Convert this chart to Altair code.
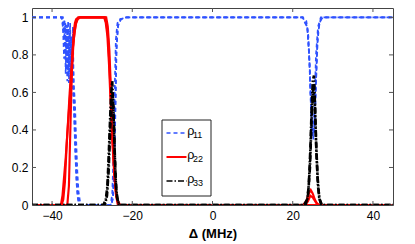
import altair as alt
import pandas as pd

# ---- data ----
b1_x = [-45, -37.6, -37.2, -36.9, -36.6, -36.3, -36.0, -35.7, -35.4, -35.1, -34.8, -34.5, -34.2, -33.9, -33.6, -33.2,
        -25.2, -24.8, -24.5, -24.2, -23.9, -23.5, -22.8, -21.5,
        22.5, 23.4, 23.9, 24.3, 24.7, 25.1, 25.5, 25.9, 26.3, 26.8, 27.5, 45]
b1_y = [1, 1, 0.93, 0.99, 0.8, 0.96, 0.7, 0.93, 0.66, 0.9, 0.62, 0.48, 0.28, 0.12, 0.04, 0,
        0, 0.04, 0.18, 0.5, 0.85, 0.96, 0.99, 1,
        1, 0.98, 0.9, 0.7, 0.45, 0.35, 0.42, 0.7, 0.92, 0.98, 1, 1]
b2_x = [-45, -37.3, -37.0, -36.7, -36.4, -36.1, -35.8, -35.5, -35.2, -34.9, -34.6, -34.3, -34.0, -33.7, -33.4, -32.9,
        -25.4, -25.0, -24.7, -24.4, -24.1, -23.7, -23.0, -21.5,
        22.5, 23.6, 24.1, 24.5, 24.9, 25.3, 25.7, 26.1, 26.6, 27.2, 45]
b2_y = [1, 1, 0.88, 0.97, 0.72, 0.94, 0.65, 0.97, 0.7, 0.85, 0.64, 0.55, 0.35, 0.18, 0.07, 0,
        0, 0.06, 0.25, 0.6, 0.88, 0.97, 0.99, 1,
        1, 0.95, 0.8, 0.55, 0.38, 0.4, 0.6, 0.85, 0.96, 1, 1]
b3_x = [-45, -37.4, -37.2, -37.0, -36.8, -36.6, -36.4, -36.2, -36.0, -35.8, -35.6, -35.4, -35.2, -35.0, -34.8,
        -34.6, -34.4, -34.1, -33.8, -33.5, -33.1,
        -25.3, -24.9, -24.6, -24.3, -24.0, -23.6, -23.0, -21.5,
        22.5, 23.7, 24.2, 24.6, 25.0, 25.4, 25.8, 26.3, 27.0, 45]
b3_y = [1, 1, 0.9, 0.78, 0.95, 0.7, 0.9, 0.66, 0.98, 0.75, 0.92, 0.63, 0.88, 0.7, 0.95,
        0.6, 0.45, 0.25, 0.1, 0.03, 0,
        0, 0.03, 0.15, 0.45, 0.8, 0.95, 0.99, 1,
        1, 0.94, 0.75, 0.5, 0.37, 0.5, 0.8, 0.95, 1, 1]

r1_x = [-45, -37.6, -37.2, -36.8, -36.4, -36.0, -35.6, -35.2, -34.8, -34.4, -34.0, -33.6, -33.0,
        -27.0, -26.6, -26.2, -25.8, -25.4, -25.0, -24.6, -24.2, -23.8, -23.3,
        22.6, 23.4, 24.0, 24.5, 25.0, 25.5, 26.0, 26.6, 45]
r1_y = [0, 0, 0.03, 0.12, 0.3, 0.45, 0.6, 0.72, 0.84, 0.92, 0.97, 0.99, 1,
        1, 0.97, 0.9, 0.75, 0.55, 0.35, 0.2, 0.09, 0.03, 0,
        0, 0.02, 0.06, 0.08, 0.06, 0.03, 0.01, 0, 0]
r2_x = [-45, -36.2, -35.8, -35.5, -35.2, -34.9, -34.6, -34.3, -34.0, -33.5,
        -26.5, -26.1, -25.7, -25.3, -24.9, -24.5, -24.1, -23.6,
        23.0, 23.8, 24.4, 25.0, 25.6, 26.2, 45]
r2_y = [0, 0, 0.1, 0.35, 0.6, 0.8, 0.92, 0.97, 0.99, 1,
        1, 0.95, 0.82, 0.6, 0.38, 0.18, 0.06, 0,
        0, 0.02, 0.05, 0.04, 0.02, 0, 0]
r3_x = [-45, -37.8, -37.4, -37.0, -36.6, -36.2, -35.8, -35.4, -35.0, -34.6, -34.2, -33.8, -33.2,
        -26.8, -26.4, -26.0, -25.6, -25.2, -24.8, -24.4, -24.0, -23.6, -23.0, 45]
r3_y = [0, 0, 0.05, 0.15, 0.25, 0.38, 0.5, 0.62, 0.75, 0.88, 0.95, 0.99, 1,
        1, 0.96, 0.88, 0.7, 0.5, 0.3, 0.15, 0.06, 0.02, 0, 0]

k1_x = [-45, -27.2, -26.6, -26.2, -25.9, -25.6, -25.3, -25.0, -24.7, -24.4, -24.1, -23.8, -23.3,
        22.8, 23.6, 24.0, 24.4, 24.7, 25.0, 25.3, 25.6, 25.9, 26.3, 26.7, 27.3, 45]
k1_y = [0, 0, 0.03, 0.1, 0.25, 0.42, 0.58, 0.66, 0.5, 0.3, 0.12, 0.04, 0,
        0, 0.03, 0.1, 0.3, 0.5, 0.66, 0.69, 0.5, 0.28, 0.1, 0.03, 0, 0]
k2_x = [-45, -26.8, -26.3, -25.9, -25.5, -25.2, -24.9, -24.6, -24.3, -24.0, -23.6, -23.0,
        23.2, 23.8, 24.3, 24.7, 25.1, 25.5, 25.8, 26.2, 26.6, 27.1, 45]
k2_y = [0, 0, 0.05, 0.18, 0.4, 0.55, 0.6, 0.45, 0.22, 0.08, 0.02, 0,
        0, 0.05, 0.2, 0.45, 0.62, 0.55, 0.35, 0.15, 0.04, 0, 0]

series_names = ["ρ11", "ρ22", "ρ33"]
series_subs = ["11", "22", "33"]
series_colors = ["#2f52ff", "#ff0000", "#000000"]
series_dash = [[4, 3], [1, 0], [6, 2, 1.5, 2]]
series_width = [1.7, 2.6, 1.9]

x_ticks = [-40, -20, 0, 20, 40]
y_ticks = [0, 0.2, 0.4, 0.6, 0.8, 1]

traces = [
    (series_names[0], "b1", b1_x, b1_y),
    (series_names[0], "b2", b2_x, b2_y),
    (series_names[0], "b3", b3_x, b3_y),
    (series_names[1], "r1", r1_x, r1_y),
    (series_names[1], "r2", r2_x, r2_y),
    (series_names[1], "r3", r3_x, r3_y),
    (series_names[2], "k1", k1_x, k1_y),
    (series_names[2], "k2", k2_x, k2_y),
]
rows = []
for name, tid, xs, ys in traces:
    assert len(xs) == len(ys), tid
    for xv, yv in zip(xs, ys):
        rows.append({"x": xv, "y": yv, "s": name, "t": tid})
df = pd.DataFrame(rows)

W, H = 361, 197
xscale = alt.Scale(domain=[-45, 45], nice=False, zero=False)
yscale = alt.Scale(domain=[0, 1.05], nice=False, zero=False)
cscale = alt.Scale(domain=series_names, range=series_colors)
dscale = alt.Scale(domain=series_names, range=series_dash)
wscale = alt.Scale(domain=series_names, range=series_width)

x_axis = alt.Axis(values=x_ticks, title="Δ (MHz)", ticks=False, domain=False, grid=False,
                  labelOverlap=False, labelPadding=5, titlePadding=6,
                  titleFontWeight="bold", titleFontSize=13)
y_axis = alt.Axis(values=y_ticks, title=None, ticks=False, domain=False, grid=False,
                  labelOverlap=False, format="~g", labelPadding=4)

lines = alt.Chart(df).mark_line(clip=True).encode(
    x=alt.X("x:Q", scale=xscale, axis=x_axis),
    y=alt.Y("y:Q", scale=yscale, axis=y_axis),
    color=alt.Color("s:N", scale=cscale, legend=None),
    strokeDash=alt.StrokeDash("s:N", scale=dscale, legend=None),
    strokeWidth=alt.StrokeWidth("s:N", scale=wscale, legend=None),
    detail="t:N",
)

xt = pd.DataFrame({"x": x_ticks})
yt = pd.DataFrame({"y": y_ticks})
tick_color = "#555555"
bot = alt.Chart(xt).mark_rule(color=tick_color).encode(
    x=alt.X("x:Q", scale=xscale, axis=x_axis), y=alt.value(H), y2=alt.value(H - 4))
top = alt.Chart(xt).mark_rule(color=tick_color).encode(
    x=alt.X("x:Q", scale=xscale, axis=x_axis), y=alt.value(0), y2=alt.value(4))
lft = alt.Chart(yt).mark_rule(color=tick_color).encode(
    y=alt.Y("y:Q", scale=yscale, axis=y_axis), x=alt.value(0), x2=alt.value(4))
rgt = alt.Chart(yt).mark_rule(color=tick_color).encode(
    y=alt.Y("y:Q", scale=yscale, axis=y_axis), x=alt.value(W), x2=alt.value(W - 4))

# ---- hand-made legend (box, line samples, ρ with subscripts) ----
one = pd.DataFrame({"a": [0]})
legend_layers = [
    alt.Chart(one).mark_rect(fill="white", stroke="#222222", strokeWidth=1).encode(
        x=alt.value(130), x2=alt.value(179), y=alt.value(112), y2=alt.value(188))
]
entry_y = [125, 149, 173]
for name, sub, col, dash, ey in zip(series_names, series_subs, series_colors, series_dash, entry_y):
    legend_layers.append(
        alt.Chart(one).mark_rule(color=col, strokeDash=dash, strokeWidth=1.8 if name == "ρ22" else 1.5).encode(
            x=alt.value(134.5), x2=alt.value(154.5), y=alt.value(ey)))
    legend_layers.append(
        alt.Chart(one).mark_text(text="ρ", fontSize=12.5, align="left", baseline="alphabetic",
                                 font="Liberation Sans", color="#000").encode(
            x=alt.value(155.3), y=alt.value(ey + 1.5)))
    legend_layers.append(
        alt.Chart(one).mark_text(text=sub, fontSize=9, align="left", baseline="alphabetic",
                                 font="Liberation Sans", color="#000").encode(
            x=alt.value(161), y=alt.value(ey + 5)))

chart = alt.layer(lines, bot, top, lft, rgt, *legend_layers).properties(
    width=W, height=H,
    autosize=alt.AutoSizeParams(type="none"),
    padding={"left": 24, "top": 0, "right": 14, "bottom": 36},
).configure(font="Liberation Sans").configure_view(
    stroke="#444444", strokeWidth=1
).configure_axis(
    labelFontSize=12, labelColor="#000", titleColor="#000", labelFont="Liberation Sans", titleFont="Liberation Sans"
)

chart.save("out.html", embed_options={"renderer": "svg", "actions": False})
